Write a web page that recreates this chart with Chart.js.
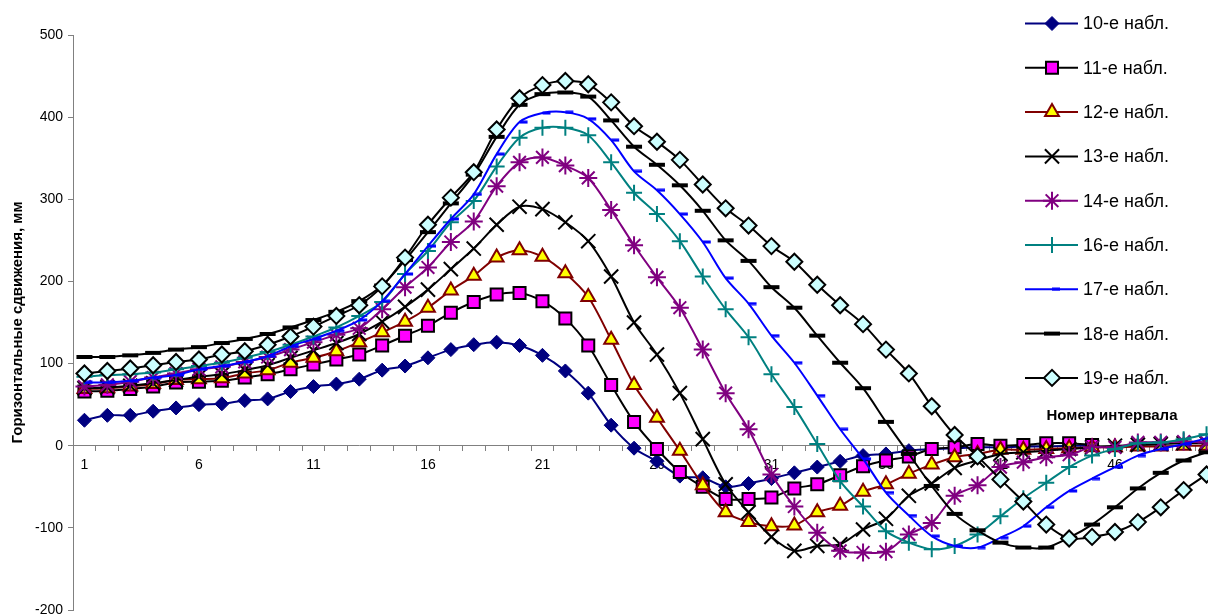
<!DOCTYPE html>
<html>
<head>
<meta charset="utf-8">
<script src="https://cdn.jsdelivr.net/npm/chart.js@4.4.1/dist/chart.umd.min.js"></script>
<style>
  html, body { margin: 0; padding: 0; background: #fff; overflow: hidden; }
  #wrap { position: relative; width: 1218px; height: 615px; }
</style>
</head>
<body>
<div id="wrap"><canvas id="chart" width="1218" height="615"></canvas></div>
<script>
// --- data ---
const intervals = Array.from({ length: 50 }, (_, i) => String(i + 1));
const seriesNames = ['10-е набл.', '11-е набл.', '12-е набл.', '13-е набл.', '14-е набл.',
                     '16-е набл.', '17-е набл.', '18-е набл.', '19-е набл.'];
const yTicks = { min: -200, max: 500, step: 100 };

const obs10 = [31,37,37,42,46,50,51,55,57,66,72,75,81,92,97,107,117,123,126,122,110,91,64,25,-3,-19,-37,-39,-50,-46,-40,-33,-26,-19,-12,-10,-6,-4,-3,-2,-2,-1,-1,0,0,null,null,null,null,null];
const obs11 = [66,67,69,72,77,78,79,83,87,93,99,105,111,122,134,146,162,175,184,186,176,155,122,74,29,-4,-32,-50,-65,-65,-63,-52,-47,-36,-25,-18,-13,-4,-2,2,0,1,3,3,1,null,null,null,null,null];
const obs12 = [69,70,72,75,80,81,82,88,92,101,107,115,126,138,151,168,189,207,229,238,230,210,181,129,74,34,-6,-48,-81,-93,-98,-97,-81,-73,-56,-47,-34,-23,-14,-10,-5,-5,-4,-3,-2,-2,-1,-1,0,0];
const obs13 = [70,71,73,76,80,84,87,92,98,107,116,125,136,151,169,190,215,240,269,291,288,272,249,206,150,111,64,8,-47,-81,-111,-128,-122,-120,-102,-89,-61,-46,-27,-18,-10,-8,-6,-4,-2,0,1,2,3,3];
const obs14 = [72,74,78,83,88,93,96,102,108,117,126,135,143,166,193,217,248,273,316,345,351,341,326,287,244,205,168,117,64,20,-35,-74,-106,-128,-130,-129,-108,-94,-61,-48,-26,-20,-14,-11,-2,-2,4,4,5,4];
const obs16 = [84,86,87,89,93,97,101,107,114,123,133,144,158,175,209,237,272,298,340,375,387,387,378,345,308,282,249,206,166,132,87,47,2,-43,-74,-104,-118,-126,-122,-108,-86,-64,-45,-26,-12,-4,3,4,8,14];
const obs17 = [77,77,79,83,86,93,97,102,109,121,130,140,153,176,209,243,276,306,355,394,405,406,398,372,334,311,282,248,204,173,134,101,61,20,-16,-57,-85,-110,-122,-124,-112,-98,-75,-55,-40,-26,-12,-4,2,9];
const obs18 = [108,108,110,113,117,120,125,130,136,144,153,163,176,195,226,260,295,330,376,415,428,430,425,396,364,342,317,286,250,225,193,168,134,101,70,29,-10,-49,-83,-103,-118,-124,-124,-112,-96,-75,-52,-33,-18,-8];
const obs19 = [88,91,94,98,102,105,111,115,123,133,145,158,171,194,229,269,302,333,385,423,439,444,440,418,389,370,348,318,289,268,243,224,196,171,148,117,88,48,13,-13,-41,-68,-96,-113,-111,-105,-93,-75,-54,-35];

const allSeries = [obs10, obs11, obs12, obs13, obs14, obs16, obs17, obs18, obs19];

// short blue dash marker (sits to the right of the point, like Excel's)
function makeShortDash(color) {
    const c = document.createElement('canvas');
    c.width = 18; c.height = 4;
    const g = c.getContext('2d');
    g.fillStyle = color;
    g.fillRect(9, 0.5, 8, 3);
    return c;
}

const FONT = "'Liberation Sans', Arial, sans-serif";

// marker / line look per series
const styles = [
    { line: '#000080', point: 'rectRot',  r: 7,   fill: '#000080', stroke: '#000080', bw: 1 },
    { line: '#000000', point: 'rect',     r: 8.5, fill: '#FF00FF', stroke: '#000000', bw: 2 },
    { line: '#800000', point: 'triangle', r: 8,   fill: '#FFFF00', stroke: '#800000', bw: 2 },
    { line: '#000000', point: 'crossRot', r: 10,  fill: '#000000', stroke: '#000000', bw: 2 },
    { line: '#800080', point: 'star',     r: 9,   fill: '#800080', stroke: '#800080', bw: 2 },
    { line: '#008080', point: 'cross',    r: 8,   fill: '#008080', stroke: '#008080', bw: 2 },
    { line: '#0000FF', point: makeShortDash('#0000FF'), r: 8, fill: '#0000FF', stroke: '#0000FF', bw: 2 },
    { line: '#000000', point: 'line',     r: 8,   fill: '#000000', stroke: '#000000', bw: 4 },
    { line: '#000000', point: 'rectRot',  r: 8,   fill: '#CCFFFF', stroke: '#000000', bw: 2 }
];

const datasets = allSeries.map((vals, i) => ({
    label: seriesNames[i],
    data: vals,
    borderColor: styles[i].line,
    borderWidth: 2,
    backgroundColor: styles[i].fill,
    pointStyle: styles[i].point,
    pointRadius: styles[i].r,
    pointBackgroundColor: styles[i].fill,
    pointBorderColor: styles[i].stroke,
    pointBorderWidth: styles[i].bw,
    tension: 0.3,
    spanGaps: false,
    order: allSeries.length - i   // later series on top
}));

// small marker painter for the hand-made legend
function drawMarker(ctx, s, x, y) {
    const r = s.r;
    ctx.save();
    ctx.fillStyle = s.fill;
    ctx.strokeStyle = s.stroke;
    ctx.lineWidth = s.bw;
    ctx.beginPath();
    if (typeof s.point !== 'string') {
        ctx.drawImage(s.point, x - s.point.width / 2, y - s.point.height / 2);
        ctx.restore();
        return;
    }
    const d = Math.SQRT1_2 * r;
    switch (s.point) {
        case 'rectRot':
            ctx.moveTo(x - r, y); ctx.lineTo(x, y - r); ctx.lineTo(x + r, y); ctx.lineTo(x, y + r);
            ctx.closePath(); ctx.fill(); ctx.stroke(); break;
        case 'rect':
            ctx.rect(x - d, y - d, 2 * d, 2 * d); ctx.fill(); ctx.stroke(); break;
        case 'triangle':
            for (let k = 0; k < 3; k++) {
                const a = k * 2 * Math.PI / 3;
                const px = x + Math.sin(a) * r, py = y - Math.cos(a) * r;
                if (k === 0) ctx.moveTo(px, py); else ctx.lineTo(px, py);
            }
            ctx.closePath(); ctx.fill(); ctx.stroke(); break;
        case 'crossRot':
            ctx.moveTo(x - d, y - d); ctx.lineTo(x + d, y + d);
            ctx.moveTo(x - d, y + d); ctx.lineTo(x + d, y - d); ctx.stroke(); break;
        case 'star':
            ctx.moveTo(x - d, y - d); ctx.lineTo(x + d, y + d);
            ctx.moveTo(x - d, y + d); ctx.lineTo(x + d, y - d);
            ctx.moveTo(x, y - r); ctx.lineTo(x, y + r);
            ctx.moveTo(x - r, y); ctx.lineTo(x + r, y); ctx.stroke(); break;
        case 'cross':
            ctx.moveTo(x, y - r); ctx.lineTo(x, y + r);
            ctx.moveTo(x - r, y); ctx.lineTo(x + r, y); ctx.stroke(); break;
        case 'line':
            ctx.moveTo(x - r, y); ctx.lineTo(x + r, y); ctx.stroke(); break;
    }
    ctx.restore();
}

// legend + x axis title drawn over the plot, as in the original
const overlay = {
    id: 'overlay',
    afterDraw(chart) {
        const ctx = chart.ctx;
        ctx.save();
        seriesNames.forEach((name, i) => {
            const y = 23.5 + 44.3 * i;
            ctx.strokeStyle = styles[i].line;
            ctx.lineWidth = 2;
            ctx.beginPath();
            ctx.moveTo(1025, y);
            ctx.lineTo(1078, y);
            ctx.stroke();
            drawMarker(ctx, styles[i], 1052, y);
            ctx.fillStyle = '#000';
            ctx.font = '18px ' + FONT;
            ctx.textAlign = 'left';
            ctx.textBaseline = 'middle';
            ctx.fillText(name, 1083, y + 1);
        });
        ctx.font = 'bold 15px ' + FONT;
        ctx.textAlign = 'center';
        ctx.textBaseline = 'middle';
        ctx.fillStyle = '#000';
        ctx.fillText('Номер интервала', 1112, 416);
        ctx.restore();
    }
};

new Chart(document.getElementById('chart'), {
    type: 'line',
    data: { labels: intervals, datasets: datasets },
    plugins: [overlay],
    options: {
        responsive: false,
        animation: false,
        layout: { autoPadding: false, padding: { top: 35, bottom: 5, left: 0, right: 0 } },
        plugins: {
            legend: { display: false },
            tooltip: { enabled: false }
        },
        scales: {
            x: {
                type: 'category',
                position: { y: 0 },
                offset: true,
                grid: { drawOnChartArea: false, tickLength: 5, color: '#808080', offset: true },
                border: { color: '#808080', width: 1 },
                ticks: {
                    autoSkip: false,
                    maxRotation: 0,
                    padding: 6,
                    color: '#000',
                    font: { family: FONT, size: 14 },
                    callback: (v, i) => (i % 5 === 0 ? intervals[i] : '')
                },
                afterFit: (scale) => {
                    scale.height = 0;
                    scale.paddingLeft = 0;
                    scale.paddingRight = 0;
                }
            },
            y: {
                position: 'left',
                min: yTicks.min,
                max: yTicks.max,
                grid: { drawOnChartArea: false, tickLength: 5, color: '#808080' },
                border: { color: '#808080', width: 1 },
                ticks: {
                    stepSize: yTicks.step,
                    padding: 5,
                    color: '#000',
                    font: { family: FONT, size: 14 }
                },
                title: {
                    display: true,
                    text: 'Горизонтальные сдвижения, мм',
                    color: '#000',
                    font: { family: FONT, size: 15, weight: 'bold' },
                    padding: { top: 9, bottom: 0 }
                },
                afterFit: (scale) => {
                    scale.width = 73;
                    scale.paddingTop = 0;
                    scale.paddingBottom = 0;
                }
            }
        }
    }
});
</script>
</body>
</html>
